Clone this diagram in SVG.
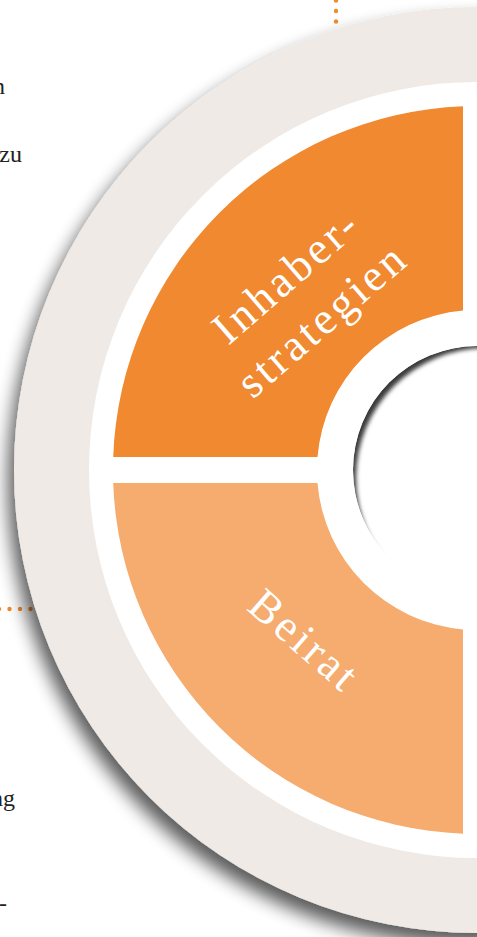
<svg xmlns="http://www.w3.org/2000/svg" width="477" height="937" viewBox="0 0 477 937">
  <style>
    .body { font-family: "Liberation Serif", "DejaVu Serif", serif; font-size: 24px; fill: #222222; }
    .seg { font-family: "Liberation Serif", "DejaVu Serif", serif; font-size: 45px; fill: #ffffff; letter-spacing: 3.5px; }
    .dot { fill: #F08A30; }
  </style>
  <defs>
    <filter id="outerShadow" x="-20%" y="-20%" width="140%" height="140%">
      <feGaussianBlur in="SourceAlpha" stdDeviation="9"/>
      <feOffset dx="-6" dy="12" result="b"/>
      <feComponentTransfer><feFuncA type="linear" slope="0.65"/></feComponentTransfer>
      <feMerge><feMergeNode/><feMergeNode in="SourceGraphic"/></feMerge>
    </filter>
    <filter id="soft" x="-20%" y="-20%" width="140%" height="140%">
      <feGaussianBlur stdDeviation="2.2"/>
    </filter>
    <mask id="centerMask" maskUnits="userSpaceOnUse" x="300" y="300" width="354" height="354">
      <circle cx="477" cy="470" r="124" fill="#ffffff"/>
      <circle cx="486" cy="478" r="130" fill="#000000" filter="url(#soft)"/>
    </mask>
  </defs>

  <rect width="477" height="937" fill="#ffffff"/>

  <g id="text-fragments">
    <text class="body" x="5" y="94" text-anchor="end">n</text>
    <text class="body" x="22" y="162" text-anchor="end">zu</text>
    <text class="body" x="15" y="806" text-anchor="end">ng</text>
    <text class="body" x="7" y="911" text-anchor="end">-</text>
  </g>

  <g id="connectors">
    <circle class="dot" cx="336" cy="0.5" r="2.2"/>
    <circle class="dot" cx="336" cy="11" r="2.2"/>
    <circle class="dot" cx="336" cy="21.5" r="2.2"/>
    <circle class="dot" cx="-1" cy="609" r="2.2"/>
    <circle class="dot" cx="9.5" cy="609" r="2.2"/>
    <circle class="dot" cx="20" cy="609" r="2.2"/>
    <circle class="dot" cx="30.5" cy="609" r="2.2"/>
  </g>

  <g id="outer-ring">
    <circle cx="477" cy="470" r="463" fill="#EFEAE6" filter="url(#outerShadow)"/>
    <circle cx="477" cy="470" r="388" fill="#ffffff"/>
  </g>

  <g id="node-inhaberstrategien">
    <path d="M113.2,457 A364,364 0 0 1 463,106.3 L463,310.6 A160,160 0 0 0 317.5,457 Z" fill="#F0892F"/>
    <text class="seg" text-anchor="middle" transform="translate(296,287) rotate(-41)">Inhaber-</text>
    <text class="seg" text-anchor="middle" transform="translate(332,331) rotate(-41)">strategien</text>
  </g>

  <g id="node-beirat">
    <path d="M113.2,483 A364,364 0 0 0 463,833.7 L463,629.4 A160,160 0 0 1 317.5,483 Z" fill="#F5AC6E"/>
    <text class="seg" text-anchor="middle" transform="translate(295,652) rotate(41)">Beirat</text>
  </g>

  <g id="node-center">
    <circle cx="477" cy="470" r="124" fill="#3a3a3a" mask="url(#centerMask)"/>
  </g>
</svg>
